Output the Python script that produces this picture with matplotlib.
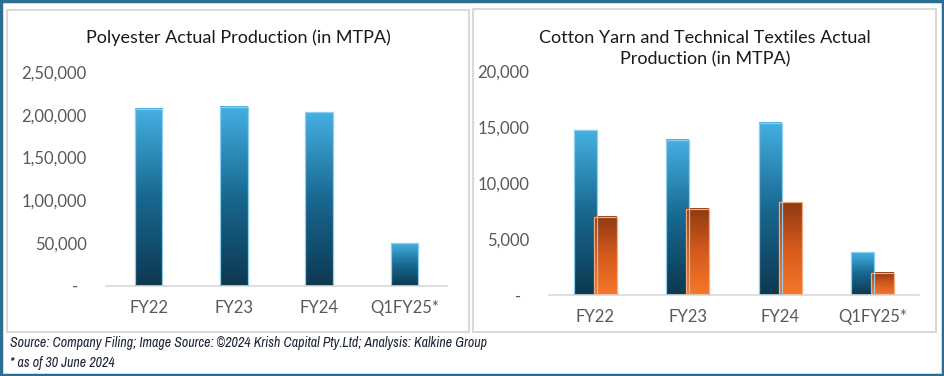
import numpy as np
import matplotlib
matplotlib.use("Agg")
import matplotlib.pyplot as plt
from matplotlib.colors import LinearSegmentedColormap
from matplotlib.patches import Rectangle

categories = ["FY22", "FY23", "FY24", "Q1FY25*"]
polyester = [207000, 209500, 203000, 50000]
cotton_yarn = [14700, 13850, 15400, 3800]
tech_textiles = [7000, 7700, 8300, 2000]

poly_ticks = [0, 50000, 100000, 150000, 200000, 250000]
poly_labels = ["-  ", "50,000", "1,00,000", "1,50,000", "2,00,000", "2,50,000"]
cotton_ticks = [0, 5000, 10000, 15000, 20000]
cotton_labels = ["-  ", "5,000", "10,000", "15,000", "20,000"]

blue_cmap = LinearSegmentedColormap.from_list("b", ["#0d3850", "#186890", "#45b0e2"])
orange_cmap = LinearSegmentedColormap.from_list("o", ["#f6782a", "#d55a1c", "#8e3a12"])

plt.rcParams['font.family'] = ['Lato', 'DejaVu Sans']

W, H = 944, 376
fig = plt.figure(figsize=(W / 100, H / 100), dpi=100)


def gradient_bars(ax, bars, cmap, edge):
    grad = np.linspace(0, 1, 256).reshape(-1, 1)
    for b in bars:
        x, y = b.get_x(), b.get_y()
        w, h = b.get_width(), b.get_height()
        ax.imshow(grad, extent=[x, x + w, y, y + h], origin="lower",
                  aspect="auto", cmap=cmap, zorder=2)
        b.set_facecolor("none")
        b.set_edgecolor(edge)
        b.set_linewidth(0.9)
        b.set_zorder(3)


def style_axis(ax, ticks, labels, top):
    ax.set_ylim(0, top)
    ax.set_xlim(-0.5, 3.5)
    ax.set_yticks(ticks)
    ax.set_yticklabels(labels)
    ax.set_xticks(range(len(categories)))
    ax.set_xticklabels(categories)
    for s in ["top", "right", "left"]:
        ax.spines[s].set_visible(False)
    ax.spines["bottom"].set_color("#d9d9d9")
    ax.spines["bottom"].set_linewidth(1.2)
    ax.tick_params(axis="y", length=0, pad=14, labelsize=12, labelcolor="#595959")
    ax.tick_params(axis="x", length=0, pad=10, labelsize=12, labelcolor="#595959")


# panel borders
fig.patches.append(Rectangle((7 / W, 1 - 332 / H), 462 / W, 322 / H, transform=fig.transFigure,
                             fill=False, edgecolor="#d9d9d9", linewidth=1.5))
fig.patches.append(Rectangle((473 / W, 1 - 332 / H), 463 / W, 323 / H, transform=fig.transFigure,
                             fill=False, edgecolor="#d9d9d9", linewidth=1.5))
fig.patches.append(Rectangle((0.001, 0.002), 0.998, 0.996, transform=fig.transFigure,
                             fill=False, edgecolor="#2c6e91", linewidth=2.5))

# left chart
ax1 = fig.add_axes([106 / W, 1 - 286 / H, 341 / W, 214 / H])
x = np.arange(len(categories))
bars = ax1.bar(x, polyester, width=0.32)
gradient_bars(ax1, bars, blue_cmap, "#8fcdec")
style_axis(ax1, poly_ticks, poly_labels, 250000)
fig.text(238 / W, 1 - 38 / H, "Polyester Actual Production (in MTPA)",
         ha="center", va="center", fontsize=13, color="#1a1a1a")

# right chart
ax2 = fig.add_axes([549 / W, 1 - 295 / H, 370 / W, 224 / H])
b1 = ax2.bar(x - 0.108, cotton_yarn, width=0.245)
b2 = ax2.bar(x + 0.108, tech_textiles, width=0.245)
gradient_bars(ax2, b1, blue_cmap, "#8fcdec")
gradient_bars(ax2, b2, orange_cmap, "#f5ab80")
style_axis(ax2, cotton_ticks, cotton_labels, 20000)
fig.text(704.7 / W, 1 - 48.9 / H, "Cotton Yarn and Technical Textiles Actual\nProduction (in MTPA)",
         ha="center", va="center", fontsize=13, color="#1a1a1a", linespacing=1.4)

# footer
footer_font = ["Archivo Narrow", "Liberation Sans", "DejaVu Sans"]
fig.text(10 / W, 1 - 343 / H,
         "Source: Company Filing; Image Source: \u00a92024 Krish Capital Pty.Ltd; Analysis: Kalkine Group",
         ha="left", va="center", fontsize=10, style="italic", color="#1b2233", family=footer_font)
fig.text(10 / W, 1 - 363 / H, "* as of 30 June 2024",
         ha="left", va="center", fontsize=10, style="italic", color="#1b2233", family=footer_font)

fig.savefig("out.png", dpi=100)
